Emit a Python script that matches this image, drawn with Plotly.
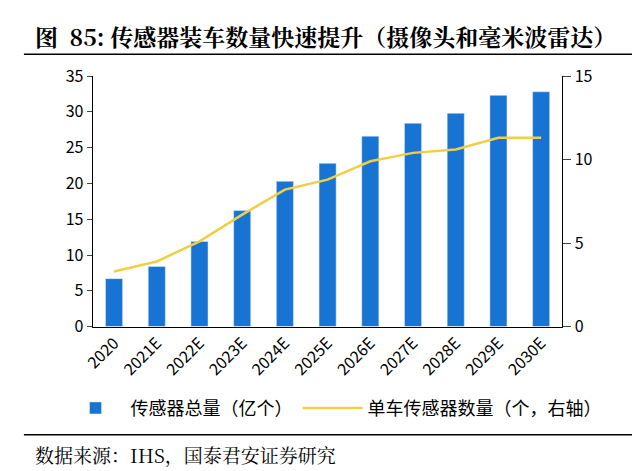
import plotly.graph_objects as go

years = ["2020", "2021E", "2022E", "2023E", "2024E", "2025E",
         "2026E", "2027E", "2028E", "2029E", "2030E"]
total_sensors = [6.7, 8.4, 11.9, 16.2, 20.3, 22.8, 26.6, 28.4, 29.8, 32.3, 32.8]
per_car = [3.3, 3.9, 5.1, 6.7, 8.2, 8.8, 9.9, 10.4, 10.6, 11.3, 11.3]

W, H = 640, 471
cjk = "Noto Sans CJK SC"
serif = "Noto Serif CJK SC, Liberation Serif, serif"

fig = go.Figure()
fig.add_trace(go.Bar(x=years, y=total_sensors, name="传感器总量（亿个）",
                     marker_color="#1874D2", width=0.4))
fig.add_trace(go.Scatter(x=years, y=per_car, name="单车传感器数量（个，右轴）",
                         yaxis="y2", mode="lines",
                         line=dict(color="#F0CF45", width=2.5)))

fig.update_layout(
    width=W, height=H, margin=dict(l=0, r=0, t=0, b=0),
    plot_bgcolor="white", paper_bgcolor="white",
    font=dict(family=cjk, size=16, color="black"),
    showlegend=True,
    legend=dict(orientation="h", x=0.5, xanchor="center", y=1 - 408 / H,
                yanchor="middle", font=dict(size=18), itemwidth=60),
    xaxis=dict(domain=[75 / W, 553 / W], tickangle=-45, showline=True,
               linecolor="black", linewidth=1, ticks="", tickfont=dict(size=16)),
    yaxis=dict(domain=[1 - 322 / H, 1 - 58 / H], range=[0, 35], dtick=5,
               showgrid=False, showline=True, linecolor="black", ticks="outside",
               ticklen=5, tickfont=dict(size=16)),
    yaxis2=dict(overlaying="y", side="right", range=[0, 15], dtick=5,
                showgrid=False, showline=True, linecolor="black", ticks="outside",
                ticklen=8, tickfont=dict(size=16)),
    shapes=[
        dict(type="line", xref="paper", yref="paper", x0=5 / W, x1=637 / W,
             y0=1 - 35 / H, y1=1 - 35 / H, line=dict(color="black", width=1.5)),
        dict(type="line", xref="paper", yref="paper", x0=5 / W, x1=637 / W,
             y0=1 - 436 / H, y1=1 - 436 / H, line=dict(color="black", width=1.5)),
    ],
    annotations=[
        dict(text="<b>图  85: 传感器装车数量快速提升（摄像头和毫米波雷达）</b>",
             xref="paper", yref="paper", x=14 / W, y=1 - 16 / H, xanchor="left",
             yanchor="middle", showarrow=False, font=dict(family=serif, size=23)),
        dict(text="数据来源：IHS，国泰君安证券研究",
             xref="paper", yref="paper", x=14 / W, y=1 - 457 / H, xanchor="left",
             yanchor="middle", showarrow=False, font=dict(family=serif, size=19)),
    ],
)

fig.write_html("out.html")
